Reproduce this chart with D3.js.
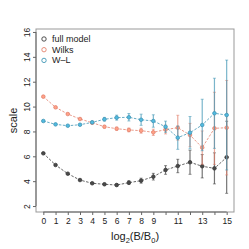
<!DOCTYPE html>
<html>
<head>
<meta charset="utf-8">
<script src="https://cdn.jsdelivr.net/npm/d3@7"></script>
<style>
  body { margin: 0; background: #fff; }
  text { font-family: "Liberation Sans", Arial, sans-serif; }
</style>
</head>
<body>
<script>
// x positions: log2(B/B0)
const steps = d3.range(0, 16);
const tickLabels = [0, 1, 2, 3, 4, 5, 6, 7, 8, 9, 11, 13, 15];
const yTicks = [2, 4, 6, 8, 10, 12, 14, 16];

// scale estimates and error half-widths per series
const fullModel = [6.24, 5.30, 4.60, 4.09, 3.83, 3.75, 3.69, 3.88, 4.04, 4.36, 4.9, 5.22, 5.52, 5.2, 5.03, 5.92];
const fullModelErr = [0.05, 0.05, 0.05, 0.05, 0.06, 0.08, 0.1, 0.15, 0.2, 0.27, 0.35, 0.54, 0.97, 0.94, 1.25, 2.9];
const wilks = [10.8, 9.94, 9.40, 9.0, 8.70, 8.38, 8.22, 8.12, 8.06, 7.93, 8.15, 8.30, 7.71, 6.70, 8.25, 8.30];
const wilksErr = [0.05, 0.05, 0.05, 0.06, 0.08, 0.1, 0.12, 0.15, 0.2, 0.25, 0.35, 1.0, 0.94, 1.34, 2.9, 3.8];
const wl = [8.84, 8.57, 8.46, 8.54, 8.73, 8.98, 9.11, 9.14, 8.94, 8.84, 8.38, 7.5, 7.9, 8.52, 9.46, 9.32];
const wlErr = [0.05, 0.05, 0.05, 0.06, 0.1, 0.15, 0.2, 0.3, 0.45, 0.5, 0.45, 0.94, 1.3, 2.07, 2.82, 4.42];

const seriesNames = ["full model", "Wilks", "W\u2013L"];
const colors = ["#3b3b3b", "#e3826d", "#4196b5"];

const series = [
  { name: seriesNames[0], values: fullModel, err: fullModelErr, color: colors[0] },
  { name: seriesNames[1], values: wilks, err: wilksErr, color: colors[1] },
  { name: seriesNames[2], values: wl, err: wlErr, color: colors[2] },
];

const box = { left: 36, right: 234, top: 29, bottom: 212 };

const svg = d3.select("body").append("svg")
  .attr("width", 249)
  .attr("height", 249);

const x = d3.scaleLinear().domain([-0.6, 15.6]).range([box.left, box.right]);
const y = d3.scaleLinear().domain([1.52, 16.24]).range([box.bottom, box.top]);

// frame
svg.append("rect")
  .attr("x", box.left).attr("y", box.top)
  .attr("width", box.right - box.left).attr("height", box.bottom - box.top)
  .attr("fill", "none").attr("stroke", "#999").attr("stroke-width", 1);

// x axis
const xAxis = svg.append("g")
  .attr("transform", `translate(0,${box.bottom})`)
  .call(d3.axisBottom(x).tickValues(steps).tickSize(3).tickPadding(3)
    .tickFormat((d) => (tickLabels.includes(d) ? d : "")));
xAxis.select(".domain").attr("d", `M${x(0)},0H${x(15)}`).attr("stroke", "#666");
xAxis.selectAll(".tick line").attr("stroke", "#666");
xAxis.selectAll("text").attr("font-size", 8.5).attr("fill", "#222");

// y axis with rotated labels
const yAxis = svg.append("g")
  .attr("transform", `translate(${box.left},0)`)
  .call(d3.axisLeft(y).tickValues(yTicks).tickSize(3).tickPadding(3));
yAxis.select(".domain").attr("d", `M0,${y(2)}V${y(16)}`).attr("stroke", "#666");
yAxis.selectAll(".tick line").attr("stroke", "#666");
yAxis.selectAll("text")
  .attr("font-size", 8.5).attr("fill", "#222")
  .attr("text-anchor", "middle").attr("x", 0).attr("dy", 0)
  .attr("transform", "translate(-9,0) rotate(-90)")
  .attr("dominant-baseline", "central");

// axis titles
svg.append("text")
  .attr("transform", `translate(13,${(box.top + box.bottom) / 2}) rotate(-90)`)
  .attr("text-anchor", "middle").attr("dominant-baseline", "central")
  .attr("font-size", 11).attr("fill", "#222")
  .text("scale");

const xt = svg.append("text")
  .attr("x", (box.left + box.right) / 2).attr("y", 240)
  .attr("text-anchor", "middle").attr("font-size", 11).attr("fill", "#222");
xt.append("tspan").text("log");
xt.append("tspan").attr("font-size", 7.5).attr("dy", 3).text("2");
xt.append("tspan").attr("dy", -3).text("(B/B");
xt.append("tspan").attr("font-size", 7.5).attr("dy", 3).text("0");
xt.append("tspan").attr("dy", -3).text(")");

// series: error bars, dashed lines, points
const line = d3.line().x((d, i) => x(steps[i])).y((d) => y(d));

series.forEach((s) => {
  const g = svg.append("g");

  const bars = g.selectAll(".bar").data(s.values).join("g");
  bars.append("line")
    .attr("x1", (d, i) => x(steps[i])).attr("x2", (d, i) => x(steps[i]))
    .attr("y1", (d, i) => y(d - s.err[i])).attr("y2", (d, i) => y(d + s.err[i]))
    .attr("stroke", s.color).attr("stroke-opacity", 0.7).attr("stroke-width", 1.2);
  [-1, 1].forEach((sign) => {
    bars.append("line")
      .attr("x1", (d, i) => x(steps[i]) - 1.5).attr("x2", (d, i) => x(steps[i]) + 1.5)
      .attr("y1", (d, i) => y(d + sign * s.err[i])).attr("y2", (d, i) => y(d + sign * s.err[i]))
      .attr("stroke", s.color).attr("stroke-opacity", 0.7).attr("stroke-width", 0.8);
  });

  g.append("path")
    .attr("d", line(s.values))
    .attr("fill", "none").attr("stroke", s.color)
    .attr("stroke-width", 0.8).attr("stroke-dasharray", "2.5,1.5");

  g.selectAll("circle").data(s.values).join("circle")
    .attr("cx", (d, i) => x(steps[i])).attr("cy", (d) => y(d))
    .attr("r", 1.8)
    .attr("fill", d3.color(s.color).brighter(0.6)).attr("stroke", s.color).attr("stroke-width", 0.8);
});

// legend
const legend = svg.append("g").attr("transform", "translate(44,39)");
series.forEach((s, i) => {
  const row = legend.append("g").attr("transform", `translate(0,${i * 10.7})`);
  row.append("circle").attr("r", 2.2).attr("fill", "none")
    .attr("stroke", s.color).attr("stroke-width", 0.9);
  row.append("text").attr("x", 8).attr("dominant-baseline", "central")
    .attr("font-size", 9).attr("fill", "#222").text(s.name);
});
</script>
</body>
</html>
